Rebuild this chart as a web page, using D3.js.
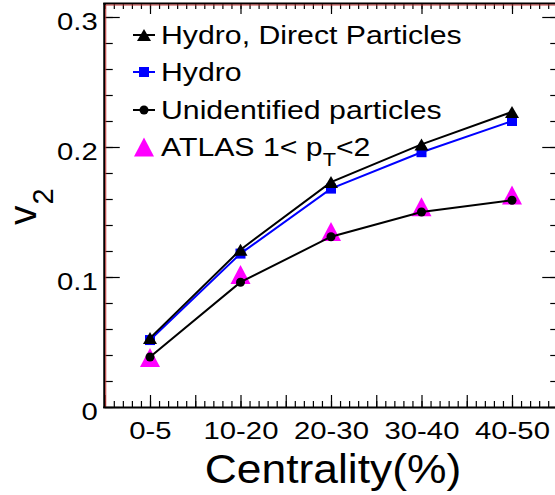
<!DOCTYPE html>
<html>
<head>
<meta charset="utf-8">
<script src="https://cdn.jsdelivr.net/npm/d3@7"></script>
<style>
  body { margin: 0; background: #fff; }
  svg { display: block; }
  text { font-family: "Liberation Sans", Arial, Helvetica, sans-serif; fill: #000; }
</style>
</head>
<body>
<div id="chart"></div>
<script>
// centrality bins, placed at x = 1..5
const categories = ["0-5", "10-20", "20-30", "30-40", "40-50"];
const xPos = [1, 2, 3, 4, 5];

// v2 values
const hydroDirect = [0.053, 0.121, 0.173, 0.202, 0.227];
const hydro = [0.0515, 0.118, 0.168, 0.196, 0.220];
const unidentified = [0.0385, 0.096, 0.131, 0.150, 0.159];
const atlas = [0.038, 0.102, 0.135, 0.154, 0.163];

const yTickValues = [0, 0.1, 0.2, 0.3];
const yTickLabels = ["0", "0.1", "0.2", "0.3"];

const legendLabels = ["Hydro, Direct Particles", "Hydro", "Unidentified particles", "ATLAS 1< p"];

const W = 555, H = 495;
const FONT_SX = 1.22; // the original text is drawn wider than Arial

const svg = d3.select("#chart").append("svg")
    .attr("width", W)
    .attr("height", H);

const x = d3.scaleLinear().domain([0.5, 5.5]).range([104.75, 557.25]);
const y = d3.scaleLinear().domain([0, 0.31]).range([407, 4]);

const xMinor = d3.range(5, 56).map(i => i / 10);
const xHalf = d3.range(1, 12).map(i => i / 2);
const xInt = d3.range(1, 6);
const yMinor = d3.range(0, 16).map(i => i / 50);

// helper: stretched text
function stretchText(sel, sx) {
    sel.each(function () {
        const t = d3.select(this);
        const tx = +t.attr("x") || 0;
        const ty = +t.attr("y") || 0;
        t.attr("x", null).attr("y", null)
            .attr("transform", `translate(${tx},${ty}) scale(${sx},1)`);
    });
}

function tickStyle(g) {
    g.select(".domain").remove();
    g.selectAll("line").attr("stroke", "#000").attr("stroke-width", 1.2);
    g.selectAll("text").remove();
}

// bottom axis (ticks point up into the frame)
svg.append("g").attr("transform", `translate(0,${y(0)})`)
    .call(d3.axisTop(x).tickValues(xMinor).tickSize(6)).call(tickStyle);
svg.append("g").attr("transform", `translate(0,${y(0)})`)
    .call(d3.axisTop(x).tickValues(xHalf).tickSize(12)).call(tickStyle);

// top axis (ticks point down)
svg.append("g").attr("transform", `translate(0,${y(0.31)})`)
    .call(d3.axisBottom(x).tickValues(xMinor).tickSize(5)).call(tickStyle);
svg.append("g").attr("transform", `translate(0,${y(0.31)})`)
    .call(d3.axisBottom(x).tickValues(xInt).tickSize(10)).call(tickStyle);

// left axis ticks
svg.append("g").attr("transform", `translate(${x(0.5)},0)`)
    .call(d3.axisRight(y).tickValues(yMinor).tickSize(8)).call(tickStyle);
svg.append("g").attr("transform", `translate(${x(0.5)},0)`)
    .call(d3.axisRight(y).tickValues(yTickValues).tickSize(15)).call(tickStyle);

// right axis ticks
svg.append("g").attr("transform", `translate(${x(5.5)},0)`)
    .call(d3.axisLeft(y).tickValues(yMinor).tickSize(7)).call(tickStyle);
svg.append("g").attr("transform", `translate(${x(5.5)},0)`)
    .call(d3.axisLeft(y).tickValues(yTickValues).tickSize(15)).call(tickStyle);

// frame
const frame = svg.append("g");
frame.append("line").attr("x1", x(0.5) - 0.5).attr("x2", x(0.5) - 0.5)
    .attr("y1", y(0.31) - 1).attr("y2", y(0) + 1).attr("stroke", "#000").attr("stroke-width", 2);
frame.append("line").attr("x1", x(0.5) + 1).attr("x2", x(0.5) + 1)
    .attr("y1", y(0.31) + 1).attr("y2", y(0)).attr("stroke", "#b33").attr("stroke-width", 1);
frame.append("line").attr("x1", x(0.5) - 1.5).attr("x2", W)
    .attr("y1", y(0.31) - 0.5).attr("y2", y(0.31) - 0.5).attr("stroke", "#000").attr("stroke-width", 2);
frame.append("line").attr("x1", x(0.5) + 1).attr("x2", W)
    .attr("y1", y(0.31) + 1).attr("y2", y(0.31) + 1).attr("stroke", "#b33").attr("stroke-width", 1);
frame.append("line").attr("x1", x(0.5) - 1.5).attr("x2", W)
    .attr("y1", y(0) + 0.5).attr("y2", y(0) + 0.5).attr("stroke", "#000").attr("stroke-width", 2);

// y tick labels
const yLab = svg.append("g").attr("transform", `translate(${x(0.5) - 7},0)`)
    .call(d3.axisLeft(y).tickValues(yTickValues).tickSize(0).tickPadding(0)
        .tickFormat((d, i) => yTickLabels[i]));
yLab.select(".domain").remove();
yLab.selectAll("text")
    .attr("font-size", 24)
    .attr("font-family", "Liberation Sans, Arial, sans-serif")
    .attr("dy", null)
    .attr("y", 12)
    .call(stretchText, FONT_SX);

// x tick labels
const xLab = svg.append("g").attr("transform", `translate(0,${y(0)})`)
    .call(d3.axisBottom(x).tickValues(xPos).tickSize(0).tickPadding(0)
        .tickFormat((d, i) => categories[i]));
xLab.select(".domain").remove();
xLab.selectAll("text")
    .attr("font-size", 24)
    .attr("font-family", "Liberation Sans, Arial, sans-serif")
    .attr("dy", null)
    .attr("y", 32)
    .call(stretchText, FONT_SX);

// axis titles
svg.append("text")
    .attr("x", 333).attr("y", 483)
    .attr("text-anchor", "middle")
    .attr("font-size", 40)
    .text("Centrality(%)")
    .call(stretchText, 1.11);

const yTitle = svg.append("text")
    .attr("transform", "translate(36,225) rotate(-90)")
    .attr("font-size", 39);
yTitle.append("tspan").text("v");
yTitle.append("tspan").attr("font-size", 29).attr("dy", 17).attr("dx", 1).text("2");

// series
const line = d3.line().x((d, i) => x(xPos[i])).y(d => y(d));

const triUp = (cx, cy, w, h) =>
    `M${cx},${cy - h / 2}L${cx + w / 2},${cy + h / 2}L${cx - w / 2},${cy + h / 2}Z`;

// ATLAS data (drawn beneath)
svg.append("g").selectAll("path")
    .data(atlas)
    .join("path")
    .attr("d", (d, i) => triUp(x(xPos[i]), y(d), 20, 19))
    .attr("fill", "#ff00ff");

svg.append("path").datum(unidentified)
    .attr("d", line).attr("fill", "none").attr("stroke", "#000").attr("stroke-width", 2);
svg.append("g").selectAll("circle")
    .data(unidentified)
    .join("circle")
    .attr("cx", (d, i) => x(xPos[i]))
    .attr("cy", d => y(d))
    .attr("r", 4.5)
    .attr("fill", "#000");

svg.append("path").datum(hydro)
    .attr("d", line).attr("fill", "none").attr("stroke", "#0000ff").attr("stroke-width", 2);
svg.append("g").selectAll("rect")
    .data(hydro)
    .join("rect")
    .attr("x", (d, i) => x(xPos[i]) - 5)
    .attr("y", d => y(d) - 5)
    .attr("width", 10).attr("height", 10)
    .attr("fill", "#0000ff");

svg.append("path").datum(hydroDirect)
    .attr("d", line).attr("fill", "none").attr("stroke", "#000").attr("stroke-width", 2);
svg.append("g").selectAll("path.tri")
    .data(hydroDirect)
    .join("path")
    .attr("class", "tri")
    .attr("d", (d, i) => triUp(x(xPos[i]), y(d), 14, 12))
    .attr("fill", "#000");

// legend
const legend = svg.append("g");
const rowY = [35, 72, 110, 147];
const lx0 = 133, lx1 = 155, lm = 144, tx = 161;

legend.append("line").attr("x1", lx0).attr("x2", lx1).attr("y1", rowY[0]).attr("y2", rowY[0])
    .attr("stroke", "#000").attr("stroke-width", 2);
legend.append("path").attr("d", triUp(lm, rowY[0], 14, 12)).attr("fill", "#000");

legend.append("line").attr("x1", lx0).attr("x2", lx1).attr("y1", rowY[1]).attr("y2", rowY[1])
    .attr("stroke", "#0000ff").attr("stroke-width", 2);
legend.append("rect").attr("x", lm - 5).attr("y", rowY[1] - 5).attr("width", 10).attr("height", 10)
    .attr("fill", "#0000ff");

legend.append("line").attr("x1", lx0).attr("x2", lx1).attr("y1", rowY[2]).attr("y2", rowY[2])
    .attr("stroke", "#000").attr("stroke-width", 2);
legend.append("circle").attr("cx", lm).attr("cy", rowY[2]).attr("r", 4.5).attr("fill", "#000");

legend.append("path").attr("d", triUp(lm, rowY[3], 20, 19)).attr("fill", "#ff00ff");

legendLabels.forEach((lab, i) => {
    const t = legend.append("text")
        .attr("x", tx).attr("y", rowY[i] + 9)
        .attr("font-size", 25);
    t.append("tspan").text(lab);
    if (i === 3) {
        t.append("tspan").attr("font-size", 18).attr("dy", 10).text("T");
        t.append("tspan").attr("dy", -10).text("<2");
    }
    t.call(stretchText, 1.21);
});
</script>
</body>
</html>
